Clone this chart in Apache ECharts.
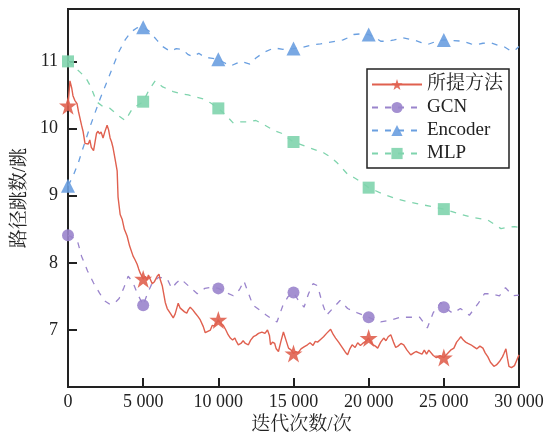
<!DOCTYPE html>
<html>
<head>
<meta charset="utf-8">
<script src="https://cdn.jsdelivr.net/npm/echarts@6/dist/echarts.min.js"></script>
<style>html,body{margin:0;padding:0;background:#fff;}#c{width:550px;height:440px;}</style>
</head>
<body>
<div id="c"></div>
<script>
const seriesNames = ['所提方法', 'GCN', 'Encoder', 'MLP'];
const xTicks = [0, 5000, 10000, 15000, 20000, 25000, 30000];
const yTicks = [7, 8, 9, 10, 11];

const proposed = [[0,10.34],[130,10.71],[250,10.6],[330,10.49],[450,10.42],[600,10.37],[700,10.25],[800,10.15],[900,10.05],[1000,9.96],[1130,9.78],[1250,9.8],[1350,9.77],[1450,9.83],[1550,9.72],[1700,9.67],[1800,9.8],[1900,9.93],[2000,9.96],[2100,9.92],[2200,9.95],[2330,9.86],[2450,9.95],[2600,10.05],[2700,9.98],[2800,9.86],[2900,9.8],[3000,9.71],[3130,9.55],[3270,9.37],[3330,8.98],[3470,8.72],[3600,8.65],[3750,8.5],[3930,8.4],[4100,8.25],[4330,8.1],[4450,8.05],[4600,7.98],[4700,7.91],[4800,7.85],[5000,7.76],[5130,7.8],[5250,7.74],[5350,7.82],[5470,7.84],[5600,7.69],[5750,7.72],[5930,7.8],[6050,7.83],[6150,7.74],[6270,7.66],[6470,7.41],[6600,7.32],[6800,7.25],[7000,7.18],[7130,7.24],[7200,7.22],[7330,7.4],[7450,7.33],[7600,7.3],[7750,7.27],[7900,7.25],[8000,7.3],[8130,7.34],[8300,7.3],[8470,7.25],[8650,7.2],[8800,7.15],[9000,7.05],[9130,6.96],[9300,6.98],[9470,7.0],[9600,7.07],[9750,7.06],[10000,7.15],[10150,7.1],[10330,7.07],[10500,7.0],[10650,6.93],[10800,6.88],[10950,6.85],[11100,6.88],[11200,6.83],[11330,6.78],[11500,6.8],[11650,6.84],[11800,6.8],[12000,6.78],[12150,6.85],[12330,6.9],[12500,6.92],[12670,6.95],[12800,6.93],[12900,6.97],[13100,6.95],[13270,7.0],[13400,6.92],[13470,6.78],[13600,6.82],[13750,6.8],[13850,6.72],[14000,6.68],[14150,6.82],[14330,6.97],[14500,6.85],[14670,6.73],[14850,6.7],[15000,6.65],[15150,6.68],[15300,6.66],[15500,6.72],[15700,6.75],[15930,6.78],[16100,6.81],[16300,6.77],[16450,6.83],[16600,6.82],[16800,6.86],[17000,6.9],[17200,6.95],[17470,7.01],[17650,6.93],[17800,6.88],[18000,6.82],[18270,6.73],[18450,6.67],[18600,6.63],[18750,6.72],[18900,6.78],[19100,6.74],[19270,6.81],[19450,6.77],[19600,6.8],[19800,6.83],[20000,6.88],[20150,6.82],[20300,6.78],[20450,6.76],[20600,6.73],[20800,6.82],[21000,6.88],[21150,6.84],[21300,6.9],[21470,6.93],[21650,6.82],[21800,6.74],[21950,6.76],[22150,6.8],[22330,6.78],[22550,6.7],[22800,6.63],[23000,6.66],[23150,6.68],[23350,6.66],[23550,6.64],[23700,6.7],[23850,6.64],[24000,6.7],[24130,6.68],[24300,6.62],[24500,6.59],[24750,6.62],[25000,6.59],[25200,6.64],[25450,6.7],[25670,6.73],[25850,6.82],[26000,6.86],[26130,6.9],[26300,6.85],[26450,6.82],[26600,6.8],[26800,6.78],[27000,6.75],[27200,6.72],[27400,6.76],[27600,6.73],[27750,6.66],[27930,6.6],[28100,6.52],[28330,6.46],[28500,6.48],[28700,6.53],[28900,6.6],[29000,6.65],[29130,6.72],[29230,6.58],[29330,6.46],[29500,6.44],[29700,6.47],[29850,6.55],[30000,6.63]];

const gcn = [[0,8.41],[300,8.38],[600,8.35],[900,8.1],[1300,7.88],[1700,7.7],[2100,7.55],[2400,7.44],[2800,7.38],[3100,7.4],[3400,7.47],[3700,7.62],[4000,7.8],[4300,7.72],[4600,7.55],[5000,7.37],[5300,7.55],[5600,7.7],[6000,7.78],[6300,7.78],[6600,7.76],[6900,7.62],[7200,7.7],[7500,7.76],[8000,7.66],[8300,7.6],[8600,7.54],[9100,7.62],[9600,7.64],[10000,7.62],[10500,7.56],[11000,7.51],[11400,7.6],[11700,7.73],[12000,7.55],[12300,7.37],[12800,7.29],[13200,7.22],[13600,7.16],[13900,7.12],[14300,7.37],[14650,7.5],[15000,7.56],[15300,7.45],[15700,7.34],[16000,7.54],[16300,7.69],[16600,7.66],[16900,7.41],[17200,7.22],[17600,7.32],[18100,7.44],[18600,7.32],[19300,7.25],[20000,7.19],[20400,7.15],[20800,7.12],[21500,7.15],[22100,7.19],[22800,7.19],[23400,7.19],[23900,7.03],[24300,7.26],[24800,7.41],[25000,7.34],[25600,7.25],[26100,7.32],[26700,7.22],[27300,7.4],[27700,7.54],[28100,7.54],[28700,7.51],[29100,7.63],[29600,7.51],[30000,7.52]];

const encoder = [[0,9.15],[300,9.27],[700,9.5],[1000,9.71],[1500,10.05],[2130,10.44],[2600,10.7],[3000,10.93],[3400,11.15],[3800,11.32],[4200,11.44],[4600,11.5],[5000,11.51],[5400,11.45],[5900,11.32],[6300,11.22],[6800,11.15],[7200,11.19],[7600,11.18],[8000,11.1],[8300,11.07],[8700,11.12],[9100,11.06],[9500,11.05],[10000,11.03],[10400,10.98],[10800,10.93],[11200,10.97],[11500,11.0],[12100,10.96],[12500,11.05],[13000,11.13],[13700,11.2],[14300,11.18],[15000,11.19],[15600,11.21],[16300,11.25],[16800,11.26],[17300,11.28],[17800,11.3],[18300,11.32],[18700,11.36],[19000,11.4],[19500,11.41],[20000,11.4],[20400,11.36],[20800,11.3],[21200,11.3],[21700,11.32],[22300,11.35],[22700,11.33],[23000,11.32],[23500,11.28],[23900,11.25],[24400,11.29],[25000,11.32],[25600,11.31],[26300,11.3],[26800,11.26],[27200,11.25],[27600,11.27],[28100,11.28],[28600,11.24],[29000,11.22],[29500,11.15],[29800,11.18],[30000,11.22]];

const mlp = [[0,11.0],[400,10.92],[800,10.84],[1200,10.75],[1500,10.63],[1900,10.4],[2300,10.33],[2800,10.3],[3300,10.2],[3800,10.12],[4300,10.3],[5000,10.4],[5400,10.58],[5800,10.71],[6300,10.62],[7000,10.55],[7500,10.52],[8000,10.5],[8500,10.47],[9000,10.44],[9500,10.38],[10000,10.3],[10500,10.2],[11000,10.08],[11500,10.1],[11900,10.1],[12500,10.12],[13100,10.05],[13700,9.97],[14200,9.93],[15000,9.8],[15500,9.76],[16100,9.71],[17000,9.64],[17500,9.57],[17900,9.49],[18600,9.32],[19100,9.26],[19500,9.2],[20000,9.12],[20500,9.07],[21000,9.02],[21900,8.95],[22800,8.9],[23700,8.86],[24400,8.83],[25000,8.8],[25900,8.74],[26800,8.68],[27900,8.64],[28800,8.51],[29300,8.53],[29700,8.54],[30000,8.53]];

const STAR = 'path://M50,0 L61.8,35.3 L99,35.3 L69,57.1 L80.4,92.7 L50,70.6 L19.6,92.7 L31,57.1 L1,35.3 L38.2,35.3 Z';
const serifFont = "'Liberation Serif', 'Times New Roman', 'Noto Serif CJK SC', 'Noto Sans CJK SC', serif";

function withMarkers(pairs) {
  return pairs.map(p => (p[0] % 5000 === 0 && p[0] < 30000) ? { value: p } : { value: p, symbol: 'none' });
}
function fmt(v) { return String(v).replace(/\B(?=(\d{3})+(?!\d))/g, ' '); }

const colors = ['#e0604f', '#9a84cc', '#6a9fe0', '#7fd4ad'];
const dataSets = [proposed, gcn, encoder, mlp];
const symbols = [STAR, 'circle', 'triangle', 'rect'];
const symbolSizes = [18, 12, 14, 12];

const series = seriesNames.map((name, i) => ({
  name: name,
  type: 'line',
  data: withMarkers(dataSets[i]),
  symbol: symbols[i],
  symbolSize: symbolSizes[i],
  showSymbol: true,
  showAllSymbol: true,
  z: i === 0 ? 5 : 3,
  lineStyle: { color: colors[i], width: i === 0 ? 1.4 : 1.3, type: i === 0 ? 'solid' : [6, 7] },
  itemStyle: { color: colors[i], opacity: 0.9 },
  emphasis: { disabled: true },
  animation: false
}));

const chart = echarts.init(document.getElementById('c'), null, { renderer: 'canvas' });
chart.setOption({
  animation: false,
  grid: { left: 68, right: 31, top: 9, bottom: 48, show: true, borderColor: '#222', borderWidth: 2, backgroundColor: 'transparent' },
  legend: {
    data: seriesNames,
    orient: 'vertical',
    left: 367, top: 69,
    itemWidth: 50, itemHeight: 14, itemGap: 4,
    padding: [6, 6, 5, 4],
    borderColor: '#222', borderWidth: 1.5,
    backgroundColor: '#fff',
    textStyle: { fontFamily: serifFont, fontSize: 19, color: '#222', lineHeight: 19 }
  },
  xAxis: {
    type: 'value', min: 0, max: 30000, interval: 5000,
    name: '迭代次数/次', nameLocation: 'middle', nameGap: 27,
    nameTextStyle: { fontFamily: serifFont, fontSize: 19, color: '#222', padding: [0, 0, 0, 16] },
    axisLine: { lineStyle: { color: '#222', width: 2 } },
    axisTick: { inside: true, length: 9, lineStyle: { color: '#222', width: 2 } },
    axisLabel: { margin: 6, fontFamily: serifFont, fontSize: 18, color: '#222', formatter: v => xTicks.includes(v) ? fmt(v) : '' },
    splitLine: { show: false }
  },
  yAxis: {
    type: 'value', min: 6.15, max: 11.78, splitNumber: 5,
    name: '路径跳数/跳', nameLocation: 'middle', nameGap: 30, nameRotate: 90,
    nameTextStyle: { fontFamily: serifFont, fontSize: 19, color: '#222' },
    axisLine: { lineStyle: { color: '#222', width: 2 } },
    axisTick: { inside: true, length: 9, lineStyle: { color: '#222', width: 2 } },
    axisLabel: { margin: 10, fontFamily: serifFont, fontSize: 18, color: '#222', showMinLabel: false, showMaxLabel: false, formatter: v => yTicks.includes(Math.round(v * 100) / 100) ? String(Math.round(v)) : '' },
    splitLine: { show: false }
  },
  series: series
});
</script>
</body>
</html>
